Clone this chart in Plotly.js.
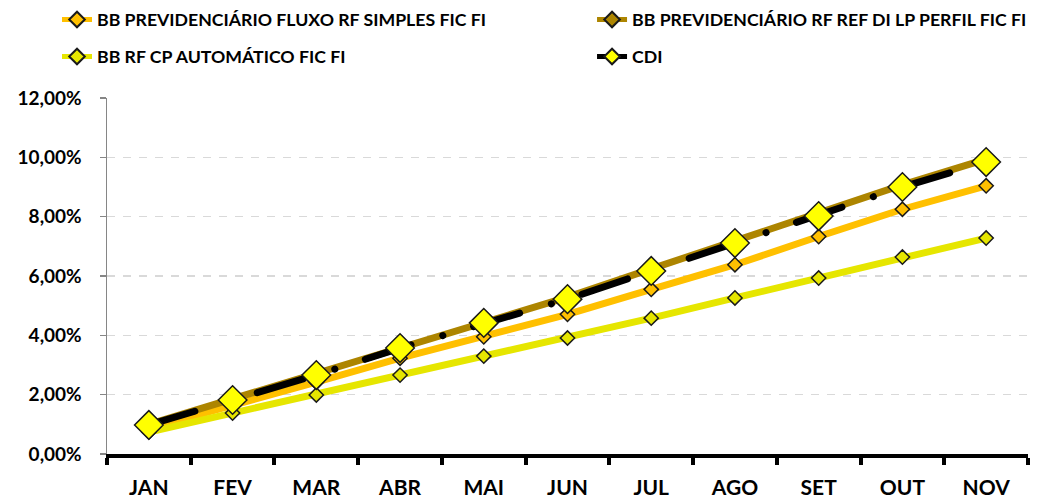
<!DOCTYPE html>
<html>
<head>
<meta charset="utf-8">
<script src="https://cdn.plot.ly/plotly-3.0.1.min.js"></script>
<style>
html,body{margin:0;padding:0;background:#fff;}
#chart{width:1046px;height:500px;}
.scatterlayer .trace:last-child .js-line{stroke-linecap:round;}
</style>
</head>
<body>
<div id="chart"></div>
<script>
const months = ['JAN','FEV','MAR','ABR','MAI','JUN','JUL','AGO','SET','OUT','NOV'];
const fluxoName = 'BB PREVIDENCIÁRIO FLUXO RF SIMPLES FIC FI';
const perfilName = 'BB PREVIDENCIÁRIO RF REF DI LP PERFIL FIC FI';
const autoName = 'BB RF CP AUTOMÁTICO FIC FI';
const cdiName = 'CDI';
const fluxo = [0.86, 1.62, 2.42, 3.23, 3.95, 4.71, 5.55, 6.38, 7.33, 8.25, 9.04];
const perfil = [1.00, 1.86, 2.72, 3.62, 4.48, 5.29, 6.24, 7.19, 8.10, 9.07, 9.94];
const automatico = [0.74, 1.38, 1.99, 2.66, 3.30, 3.91, 4.58, 5.26, 5.93, 6.64, 7.28];
const cdi = [0.98, 1.82, 2.66, 3.57, 4.42, 5.22, 6.17, 7.11, 8.02, 9.00, 9.84];

const F = 'Lato, "Open Sans", sans-serif';

const traces = [
  {x: months, y: fluxo, name: fluxoName, type: 'scatter', mode: 'lines+markers', legend: 'legend',
   line: {color: '#FFC000', width: 7},
   marker: {symbol: 'diamond', size: 11, color: '#FFC000', line: {color: '#1a1a1a', width: 1.5}}},
  {x: months, y: perfil, name: perfilName, type: 'scatter', mode: 'lines+markers', legend: 'legend2',
   line: {color: '#AD8500', width: 7},
   marker: {symbol: 'diamond', size: 11, color: '#AD8500', line: {color: '#1a1a1a', width: 1.5}}},
  {x: months, y: automatico, name: autoName, type: 'scatter', mode: 'lines+markers', legend: 'legend3',
   line: {color: '#E6E600', width: 7},
   marker: {symbol: 'diamond', size: 11, color: '#E6E600', line: {color: '#1a1a1a', width: 1.5}}},
  {x: months, y: cdi, name: cdiName, type: 'scatter', mode: 'lines+markers', legend: 'legend4',
   line: {color: '#000000', width: 7, dash: '48px,33px,0.1px,32px'},
   marker: {symbol: 'diamond', size: 22, color: '#FFFF00', line: {color: '#1a1a1a', width: 1.5}}}
];

function leg(x, y) {
  return {orientation: 'h', x: x, xref: 'container', xanchor: 'left', y: y, yref: 'container', yanchor: 'top',
          font: {family: F, size: 17.7, color: '#000', weight: 'bold'},
          itemsizing: 'constant', bgcolor: 'rgba(0,0,0,0)', borderwidth: 0};
}

const layout = {
  width: 1046, height: 500,
  margin: {l: 107, r: 18, t: 98, b: 46},
  paper_bgcolor: '#ffffff', plot_bgcolor: '#ffffff',
  separators: ',.',
  font: {family: F, color: '#000', size: 14},
  showlegend: true,
  legend: leg(0.0545, 0.997),
  legend2: leg(0.566, 0.997),
  legend3: leg(0.0545, 0.923),
  legend4: leg(0.566, 0.923),
  xaxis: {type: 'category', range: [-0.5, 10.5], showline: true, linecolor: '#000', linewidth: 4,
          ticks: 'outside', tickson: 'boundaries', ticklen: 7, tickwidth: 4, tickcolor: '#000',
          showgrid: false, zeroline: false, ticklabelstandoff: 12,
          tickfont: {family: F, size: 21, color: '#000', weight: 'bold'}},
  yaxis: {range: [0, 12], dtick: 2, tick0: 0, tickformat: '.2f', ticksuffix: '%',
          showline: true, linecolor: '#868686', linewidth: 1.5,
          ticks: 'outside', ticklen: 6, tickwidth: 1.5, tickcolor: '#868686',
          showgrid: true, gridcolor: '#D9D9D9', gridwidth: 1.5, griddash: '8px,8px',
          zeroline: false, ticklabelstandoff: 14,
          tickfont: {family: F, size: 19, color: '#000', weight: 'bold'}}
};

Plotly.newPlot('chart', traces, layout, {displayModeBar: false, staticPlot: true});
</script>
</body>
</html>
